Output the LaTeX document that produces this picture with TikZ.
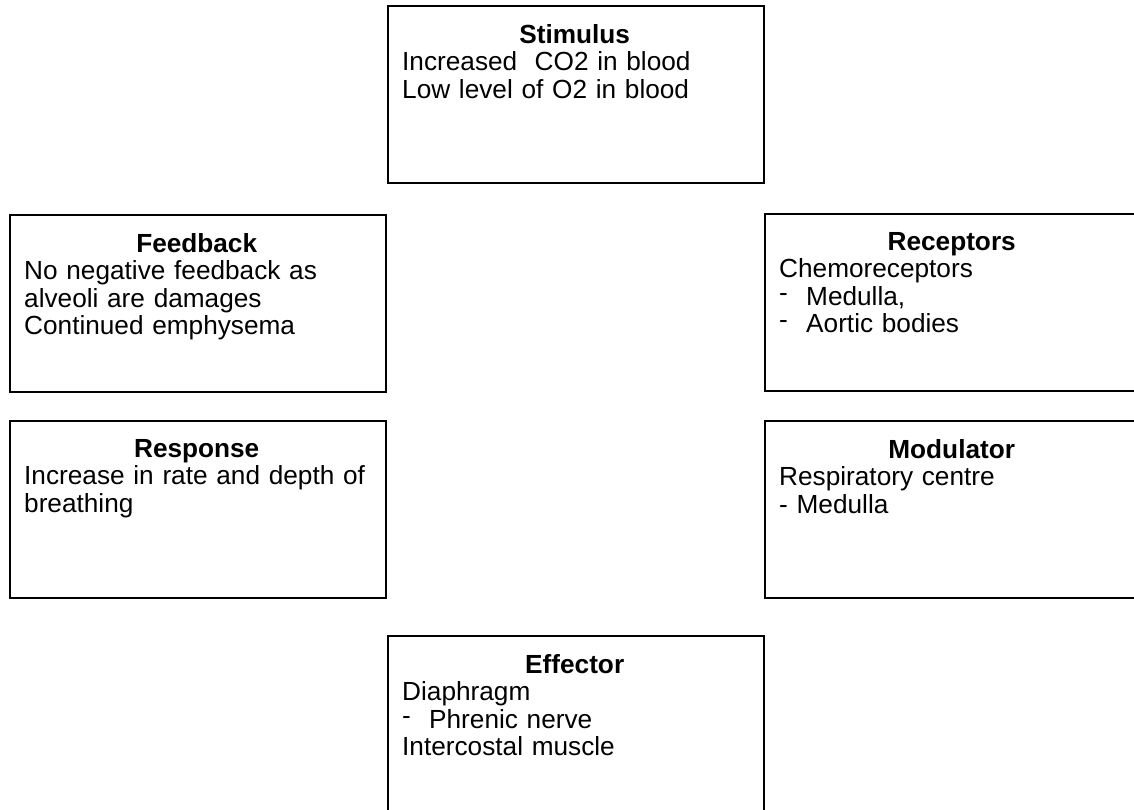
\documentclass[tikz,border=0pt]{standalone}
\usepackage{fontspec}
\setmainfont{Liberation Sans}
\newcommand\bdash{\makebox[27pt][l]{\smash{\raisebox{4pt}{-}}}}
\begin{document}
\begin{tikzpicture}[x=1pt,y=-1pt,
  box/.style={draw=black,line width=1.6pt,rectangle,minimum width=376pt,minimum height=177pt,anchor=north west,inner sep=0pt,fill=white},
  txt/.style={anchor=north west,inner sep=0pt,text width=345pt,align=left,font=\fontsize{26.2}{27.5}\selectfont}]
\clip (0,0) rectangle (1134,809);
\fill[white] (0,0) rectangle (1134,809);
\node[box] (stim) at (387,5) {};
\node[box] (feed) at (9,214) {};
\node[box] (rec) at (764,213) {};
\node[box] (resp) at (9,420) {};
\node[box] (mod) at (764,420) {};
\node[box] (eff) at (387,635) {};
\node[txt] (stimT) at ([xshift=15pt,yshift=-19pt]stim.north west) {\makebox[\hsize]{\bfseries Stimulus}\\Increased\ \ CO2 in blood\\Low level of O2 in blood};
\node[txt] (feedT) at ([xshift=15pt,yshift=-19pt]feed.north west) {\makebox[\hsize]{\bfseries Feedback}\\No negative feedback as\\alveoli are damages\\Continued emphysema};
\node[txt] (recT) at ([xshift=15pt,yshift=-19pt]rec.north west) {\makebox[\hsize]{\bfseries Receptors}\\Chemoreceptors\\\bdash Medulla,\\\bdash Aortic bodies};
\node[txt] (respT) at ([xshift=15pt,yshift=-19pt]resp.north west) {\makebox[\hsize]{\bfseries Response}\\Increase in rate and depth of\\breathing};
\node[txt] (modT) at ([xshift=15pt,yshift=-19pt]mod.north west) {\makebox[\hsize]{\bfseries Modulator}\\Respiratory centre\\- Medulla};
\node[txt] (effT) at ([xshift=15pt,yshift=-19pt]eff.north west) {\makebox[\hsize]{\bfseries Effector}\\Diaphragm\\\bdash Phrenic nerve\\Intercostal muscle};
\end{tikzpicture}
\end{document}
